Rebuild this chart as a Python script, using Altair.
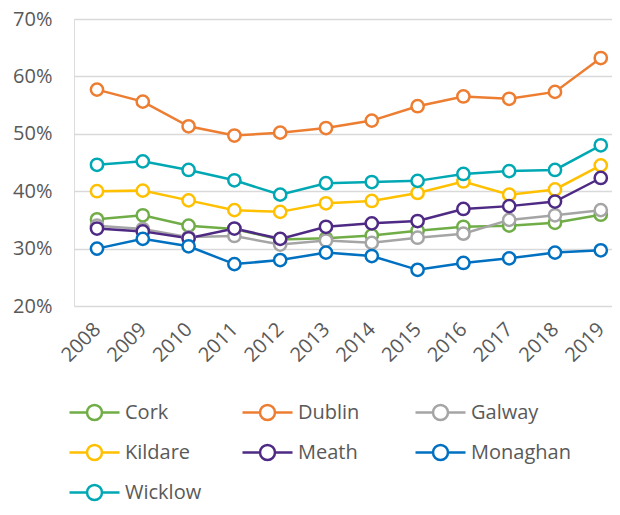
import altair as alt
import pandas as pd

years = [2008, 2009, 2010, 2011, 2012, 2013, 2014, 2015, 2016, 2017, 2018, 2019]
counties = ["Cork", "Dublin", "Galway", "Kildare", "Meath", "Monaghan", "Wicklow"]
colors = ["#70AD47", "#ED7D31", "#A5A5A5", "#FFC000", "#4E2A84", "#0070C0", "#00A8B4"]

cork = [35.1, 35.8, 34.0, 33.4, 31.6, 31.8, 32.3, 33.1, 33.8, 34.0, 34.5, 35.9]
dublin = [57.7, 55.6, 51.3, 49.7, 50.2, 51.0, 52.3, 54.8, 56.5, 56.1, 57.3, 63.2]
galway = [34.0, 33.4, 32.0, 32.2, 30.7, 31.4, 31.0, 31.9, 32.6, 35.0, 35.8, 36.7]
kildare = [40.0, 40.1, 38.4, 36.7, 36.4, 37.9, 38.3, 39.7, 41.7, 39.4, 40.3, 44.5]
meath = [33.5, 33.0, 31.8, 33.5, 31.7, 33.8, 34.4, 34.8, 36.9, 37.4, 38.2, 42.3]
monaghan = [30.0, 31.7, 30.4, 27.3, 28.0, 29.3, 28.7, 26.3, 27.5, 28.3, 29.3, 29.7]
wicklow = [44.6, 45.2, 43.7, 41.9, 39.4, 41.4, 41.6, 41.8, 43.0, 43.5, 43.7, 48.0]

series = [cork, dublin, galway, kildare, meath, monaghan, wicklow]
rows = []
for name, vals in zip(counties, series):
    for y, v in zip(years, vals):
        rows.append({"county": name, "year": y, "value": v / 100})
df = pd.DataFrame(rows)

FONT = "Open Sans"
TXT = "#595959"

stroke = alt.Stroke(
    "county:N",
    scale=alt.Scale(domain=counties, range=colors),
    legend=alt.Legend(
        title=None,
        orient="none",
        direction="horizontal",
        legendX=9,
        legendY=382,
        columns=3,
        gridAlign="all",
        columnPadding=12,
        rowPadding=15,
        padding=0,
        symbolType="M-2.5,0H-0.75M0.75,0H2.5M0.75,0A0.75,0.75 0 1,1 -0.75,0A0.75,0.75 0 1,1 0.75,0Z",
        symbolSize=400,
        symbolStrokeWidth=2.5,
        symbolFillColor="white",
        labelOffset=19,
        labelFont=FONT,
        labelFontSize=20,
        labelColor=TXT,
    ),
)

x = alt.X(
    "year:Q",
    scale=alt.Scale(domain=[2007.498, 2019.245], nice=False, zero=False),
    axis=alt.Axis(
        title=None,
        values=years,
        format="d",
        labelAngle=-45,
        labelAlign="right",
        labelBaseline="middle",
        labelPadding=20,
        labelOverlap=False,
        labelFont=FONT,
        labelFontSize=20,
        labelColor=TXT,
        grid=False,
        domain=False,
        ticks=False,
    ),
)
y = alt.Y(
    "value:Q",
    scale=alt.Scale(domain=[0.2, 0.7], nice=False, zero=False),
    axis=alt.Axis(
        title=None,
        values=[0.2, 0.3, 0.4, 0.5, 0.6, 0.7],
        format=".0%",
        labelPadding=22,
        labelFont=FONT,
        labelFontSize=20,
        labelColor=TXT,
        grid=True,
        gridColor="#D9D9D9",
        gridWidth=1.5,
        domain=False,
        ticks=False,
    ),
)

lines = alt.Chart(df).mark_line(strokeWidth=2.5).encode(x=x, y=y, stroke=stroke)
points = alt.Chart(df).mark_point(
    filled=False, fill="white", size=150, strokeWidth=2.5, opacity=1
).encode(x=x, y=y, stroke=stroke)

chart = (
    alt.layer(lines, points)
    .properties(
        width=538,
        height=287,
        padding={"left": 66, "top": 11, "right": 0, "bottom": 201},
        autosize=alt.AutoSizeParams(type="none"),
    )
    .configure_view(stroke=None)
    .configure(background="white")
)

chart.save("out.html", embed_options={"renderer": "svg", "actions": False})
